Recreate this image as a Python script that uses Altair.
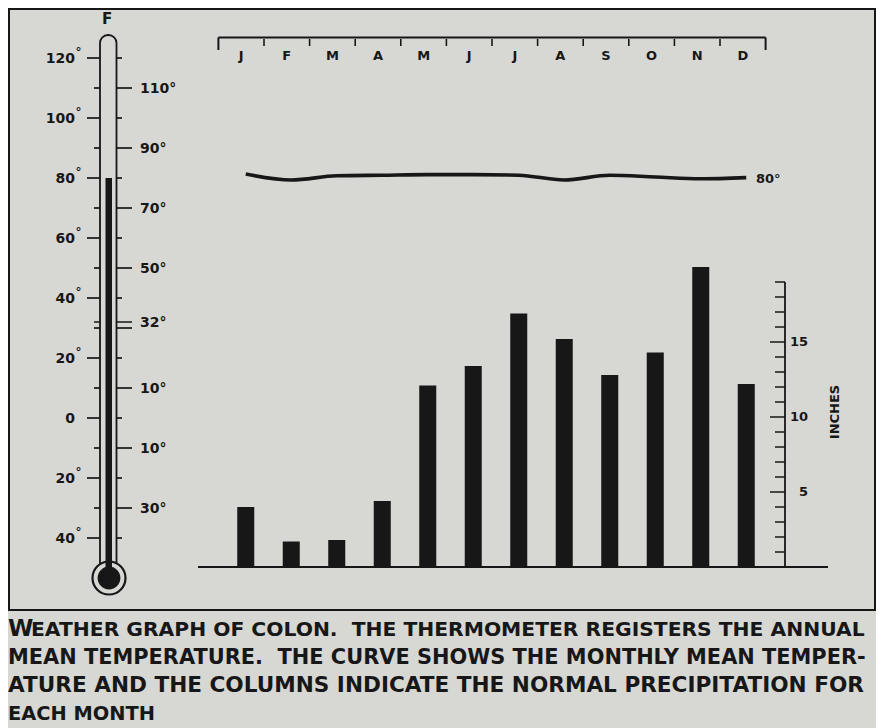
import altair as alt
import pandas as pd

# ---------------- data ----------------
months = ["Jan", "Feb", "Mar", "Apr", "May", "Jun", "Jul", "Aug", "Sep", "Oct", "Nov", "Dec"]
month_letters = ["J", "F", "M", "A", "M", "J", "J", "A", "S", "O", "N", "D"]
precip_in = [4.0, 1.7, 1.8, 4.4, 12.1, 13.4, 16.9, 15.2, 12.8, 14.3, 20.0, 12.2]
monthly_temp_f = [80.5, 79.5, 80.2, 80.3, 80.4, 80.4, 80.3, 79.5, 80.3, 80.0, 79.7, 79.9]
annual_mean_f = [80]
thermo_ticks_f = [-40, -30, -20, -10, 0, 10, 20, 30, 40, 50, 60, 70, 80, 90, 100, 110, 120]
left_values = [120, 100, 80, 60, 40, 20, 0, -20, -40]
left_labels = ["120", "100", "80", "60", "40", "20", "0", "20", "40"]
right_values = [110, 90, 70, 50, 32, 10, -10, -30]
right_labels = ["110°", "90°", "70°", "50°", "32°", "10°", "10°", "30°"]
freezing_f = [32]
inch_ticks = [1, 2, 3, 4, 5, 6, 7, 8, 9, 10, 11, 12, 13, 14, 15, 16, 17, 18, 19]
inch_label_values = [5, 10, 15]
month_bounds = [0, 1, 2, 3, 4, 5, 6, 7, 8, 9, 10, 11, 12]
curve_label = ["80°"]
caption_lines = [
    "WEATHER GRAPH OF COLON.\u00a0 THE THERMOMETER REGISTERS THE ANNUAL",
    "MEAN TEMPERATURE.\u00a0 THE CURVE SHOWS THE MONTHLY MEAN TEMPER-",
    "ATURE AND THE COLUMNS INDICATE THE NORMAL PRECIPITATION FOR",
    "EACH MONTH",
]

# ---------------- styling ----------------
INK = "#171717"
BG = "#d7d7d4"
FONT = "DejaVu Sans"
CAPTION_FONT_SIZES = [20.3, 20.9, 21.6, 19.4]

W, H = 868, 730

T_SCALE = alt.Scale(domain=[-40, 120], range=[530, 50])
IN_SCALE = alt.Scale(domain=[0, 19], range=[559, 274])
BAR_X = alt.Scale(domain=months, range=[215, 761], paddingInner=0.626, paddingOuter=0.313)
HDR_X = alt.Scale(domain=[0, 12], range=[210.4, 757.6])
CURVE_T = alt.Scale(domain=[79, 81], range=[175, 163])

one = pd.DataFrame({"k": [0]})
month_df = pd.DataFrame({"month": months, "precip": precip_in, "temp": monthly_temp_f})
tick_df = pd.DataFrame({"t": thermo_ticks_f})
left_df = pd.DataFrame({"v": left_values, "lab": left_labels})
right_df = pd.DataFrame({"v": right_values, "lab": right_labels})
freeze_df = pd.DataFrame({"t": freezing_f})
mean_df = pd.DataFrame({"t": annual_mean_f})
inch_df = pd.DataFrame({"i": inch_ticks})
inch_lab_df = pd.DataFrame({"i": inch_label_values, "lab": [str(v) for v in inch_label_values]})
bound_df = pd.DataFrame({"b": month_bounds})
hdr_lab_df = pd.DataFrame({"m": month_bounds[:-1], "lab": month_letters})
span_df = pd.DataFrame({"s": [month_bounds[0]], "e": [month_bounds[-1]]})
axis_df = pd.DataFrame({"lo": [0], "hi": [max(inch_ticks)]})
cap_df = pd.DataFrame({"row": list(range(len(caption_lines))), "text": caption_lines})
cap_df["body"] = [t[1:] if r == 0 else t for r, t in zip(cap_df["row"], cap_df["text"])]
cap_first = pd.DataFrame({"row": [0], "ch": [caption_lines[0][0]]})

layers = []

# frame
layers.append(
    alt.Chart(one).mark_rect(fill="transparent", stroke=INK, strokeWidth=2).encode(
        x=alt.value(1), x2=alt.value(867), y=alt.value(1), y2=alt.value(602)
    )
)

# ---- thermometer ----
layers.append(
    alt.Chart(one).mark_rect(
        fill=BG, stroke=INK, strokeWidth=1.8, cornerRadiusTopLeft=8, cornerRadiusTopRight=8
    ).encode(x=alt.value(92), x2=alt.value(108.5), y=alt.value(27), y2=alt.value(560))
)
TY = alt.Y("t:Q", scale=T_SCALE, axis=None)
layers.append(alt.Chart(tick_df).transform_filter("datum.t % 20 == 0").mark_rule(color=INK, strokeWidth=1.7)
              .encode(y=TY, x=alt.value(79), x2=alt.value(92)))
layers.append(alt.Chart(tick_df).transform_filter("datum.t % 20 != 0").mark_rule(color=INK, strokeWidth=1.7)
              .encode(y=TY, x=alt.value(86), x2=alt.value(92)))
layers.append(alt.Chart(tick_df).transform_filter("datum.t % 20 != 0").mark_rule(color=INK, strokeWidth=1.7)
              .encode(y=TY, x=alt.value(108.5), x2=alt.value(124)))
layers.append(alt.Chart(tick_df).transform_filter("datum.t % 20 == 0").mark_rule(color=INK, strokeWidth=1.7)
              .encode(y=TY, x=alt.value(108.5), x2=alt.value(114)))
# freezing point tick
layers.append(alt.Chart(freeze_df).mark_rule(color=INK, strokeWidth=1.5)
              .encode(y=TY, x=alt.value(86), x2=alt.value(92)))
layers.append(alt.Chart(freeze_df).mark_rule(color=INK, strokeWidth=1.5)
              .encode(y=TY, x=alt.value(108.5), x2=alt.value(124)))
# bulb
layers.append(alt.Chart(one).mark_point(shape="circle", filled=True, fill=BG, stroke=INK, strokeWidth=2.2, size=1089, opacity=1)
              .encode(x=alt.value(101), y=alt.value(570)))
layers.append(alt.Chart(one).mark_point(shape="circle", filled=True, fill=INK, size=520, opacity=1)
              .encode(x=alt.value(101), y=alt.value(570)))
# mercury (annual mean)
layers.append(alt.Chart(mean_df).mark_rect(fill=INK).encode(
    y=alt.Y("t:Q", scale=T_SCALE, axis=None), y2=alt.value(562), x=alt.value(97.5), x2=alt.value(104)))
# labels
VY = alt.Y("v:Q", scale=T_SCALE, axis=None)
layers.append(alt.Chart(left_df).mark_text(align="right", baseline="middle", font=FONT, fontSize=14, fontWeight="bold", color=INK, dy=1)
              .encode(y=VY, x=alt.value(67), text="lab:N"))
layers.append(alt.Chart(left_df).transform_filter("datum.v != 0").mark_text(align="left", baseline="middle", font=FONT, fontSize=12, fontWeight="bold", color=INK, dy=-6)
              .encode(y=VY, x=alt.value(67.5), text=alt.value("°")))
layers.append(alt.Chart(right_df).mark_text(align="left", baseline="middle", font=FONT, fontSize=14, fontWeight="bold", color=INK, dy=1)
              .encode(y=VY, x=alt.value(132), text="lab:N"))
layers.append(alt.Chart(one).mark_text(align="center", baseline="middle", font=FONT, fontSize=15, fontWeight="bold", color=INK)
              .encode(x=alt.value(99), y=alt.value(11), text=alt.value("F")))

# ---- month header ----
HX = alt.X("b:Q", scale=HDR_X, axis=None)
layers.append(alt.Chart(span_df).mark_rule(color=INK, strokeWidth=2)
              .encode(x=alt.X("s:Q", scale=HDR_X, axis=None), x2="e:Q", y=alt.value(29.5)))
layers.append(alt.Chart(bound_df).transform_filter("datum.b == 0 || datum.b == 12").mark_rule(color=INK, strokeWidth=2)
              .encode(x=HX, y=alt.value(29.5), y2=alt.value(42)))
layers.append(alt.Chart(bound_df).transform_filter("datum.b > 0 && datum.b < 12").mark_rule(color=INK, strokeWidth=1.6)
              .encode(x=HX, y=alt.value(31), y2=alt.value(38)))
layers.append(alt.Chart(hdr_lab_df).transform_calculate(c="datum.m + 0.5").mark_text(
    align="center", baseline="middle", font=FONT, fontSize=13, fontWeight="bold", color=INK)
    .encode(x=alt.X("c:Q", scale=HDR_X, axis=None), y=alt.value(48), text="lab:N"))

# ---- temperature curve ----
MX = alt.X("month:N", scale=BAR_X, sort=months, axis=None)
layers.append(alt.Chart(month_df).mark_line(color=INK, strokeWidth=3.6, interpolate="monotone")
              .encode(x=MX, y=alt.Y("temp:Q", scale=CURVE_T, axis=None)))
layers.append(alt.Chart(pd.DataFrame({"t": [80], "lab": curve_label})).mark_text(
    align="left", baseline="middle", font=FONT, fontSize=13, fontWeight="bold", color=INK, dy=2)
    .encode(x=alt.value(748), y=alt.Y("t:Q", scale=CURVE_T, axis=None), text="lab:N"))

# ---- precipitation columns ----
layers.append(alt.Chart(month_df).mark_bar(color=INK)
              .encode(x=MX, y=alt.Y("precip:Q", scale=IN_SCALE, axis=None)))
IY = alt.Y("i:Q", scale=IN_SCALE, axis=None)
layers.append(alt.Chart(axis_df).mark_rule(color=INK, strokeWidth=2)
              .encode(y=alt.Y("lo:Q", scale=IN_SCALE, axis=None), x=alt.value(190), x2=alt.value(820)))
layers.append(alt.Chart(axis_df).mark_rule(color=INK, strokeWidth=1.8)
              .encode(y=alt.Y("lo:Q", scale=IN_SCALE, axis=None), y2="hi:Q", x=alt.value(777)))
layers.append(alt.Chart(inch_df).transform_filter("datum.i % 5 != 0").mark_rule(color=INK, strokeWidth=1.5)
              .encode(y=IY, x=alt.value(767), x2=alt.value(777)))
layers.append(alt.Chart(inch_df).transform_filter("datum.i % 5 == 0").mark_rule(color=INK, strokeWidth=1.5)
              .encode(y=IY, x=alt.value(762), x2=alt.value(777)))
layers.append(alt.Chart(inch_lab_df).mark_text(align="right", baseline="middle", font=FONT, fontSize=13, fontWeight="bold", color=INK)
              .encode(y=IY, x=alt.value(800), text="lab:N"))
layers.append(alt.Chart(one).mark_text(align="center", baseline="middle", angle=270, font=FONT, fontSize=13, fontWeight="bold", color=INK)
              .encode(x=alt.value(827), y=alt.value(404), text=alt.value("INCHES")))

# ---- caption ----
RY = alt.Y("row:Q", scale=alt.Scale(domain=[0, 3], range=[628, 712]), axis=None)
layers.append(alt.Chart(cap_first).mark_text(align="left", baseline="alphabetic", font=FONT, fontSize=23, fontWeight="bold", color=INK)
              .encode(x=alt.value(0), y=RY, text="ch:N"))
for r, fs in enumerate(CAPTION_FONT_SIZES):
    layers.append(
        alt.Chart(cap_df).transform_filter(f"datum.row == {r}").mark_text(
            align="left", baseline="alphabetic", font=FONT, fontSize=fs, fontWeight="bold", color=INK)
        .encode(x=alt.value(23 if r == 0 else 0), y=RY, text="body:N")
    )

chart = alt.layer(*layers).resolve_scale(x="independent", y="independent").properties(
    width=W, height=H, padding=0, autosize=alt.AutoSizeParams(type="none"), background=BG
).configure_view(stroke=None)

chart.save("out.html", embed_options={"renderer": "svg", "actions": False})
